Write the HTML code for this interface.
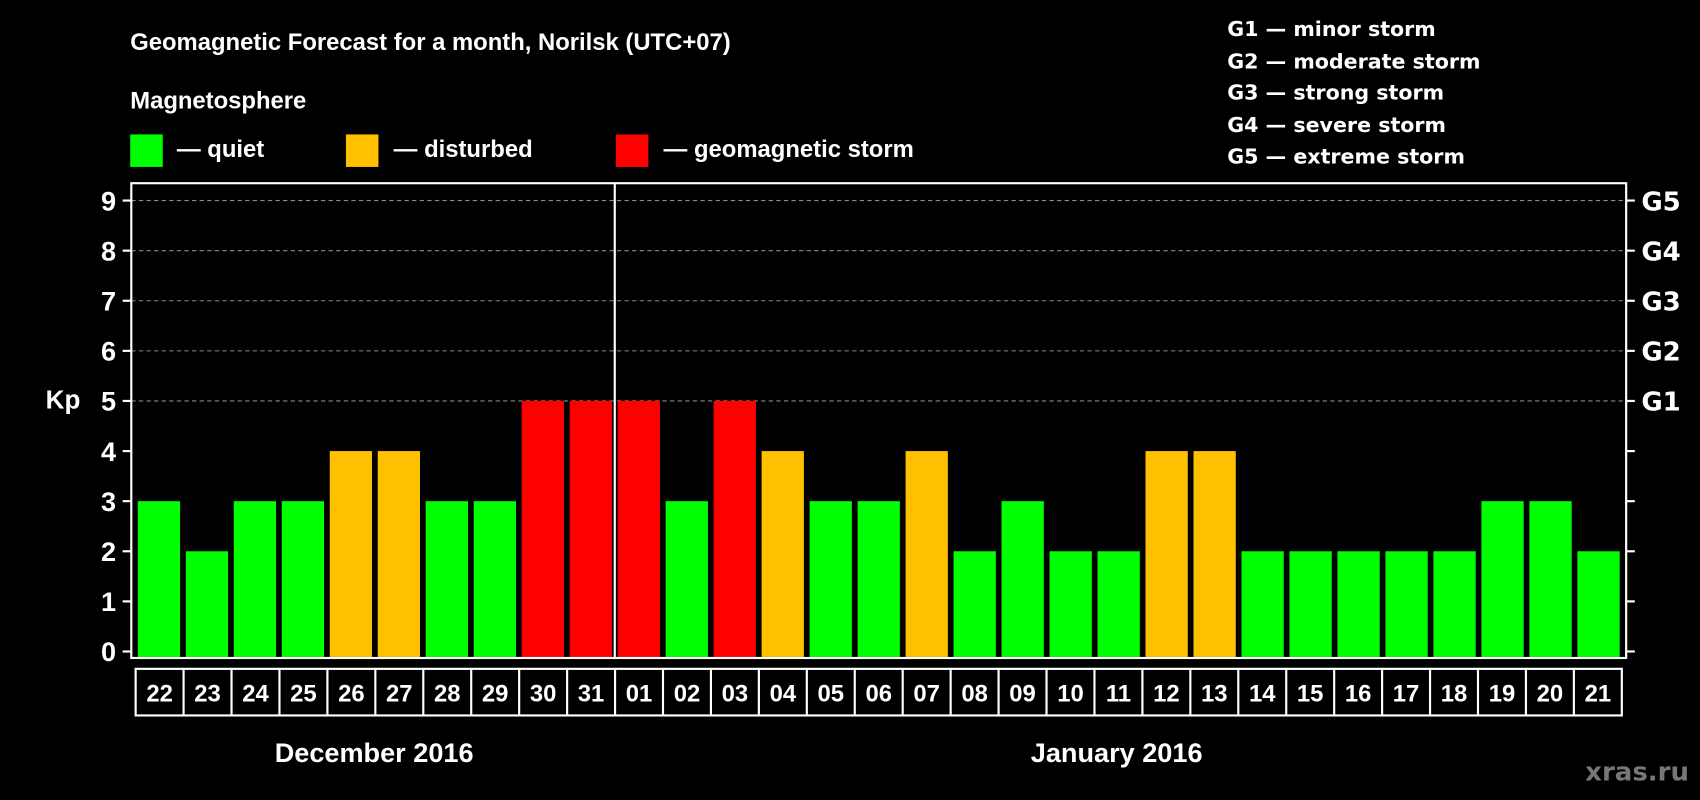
<!DOCTYPE html>
<html><head><meta charset="utf-8"><style>
html,body{margin:0;padding:0;background:#000;}
svg{display:block;font-family:"Liberation Sans",Arial,sans-serif;font-weight:bold;}
</style></head><body>
<svg id="chart" width="1700" height="800" viewBox="0 0 1568 738" xmlns="http://www.w3.org/2000/svg">
<rect width="1568" height="738" fill="#000"/>
<text x="120" y="46" fill="#fff" font-size="22">Geomagnetic Forecast for a month, Norilsk (UTC+07)</text>
<text x="120" y="100" fill="#fff" font-size="22">Magnetosphere</text>
<rect x="120" y="124" width="30" height="30" fill="#00ff00"/>
<text x="163" y="145" fill="#fff" font-size="22">— quiet</text>
<rect x="319" y="124" width="30" height="30" fill="#ffc000"/>
<text x="363" y="145" fill="#fff" font-size="22">— disturbed</text>
<rect x="568" y="124" width="30" height="30" fill="#ff0000"/>
<text x="612" y="145" fill="#fff" font-size="22">— geomagnetic storm</text>
<g fill="#fff" font-size="19" font-family="'DejaVu Sans',sans-serif">
<text x="1132" y="33">G1 — minor storm</text>
<text x="1132" y="63">G2 — moderate storm</text>
<text x="1132" y="92">G3 — strong storm</text>
<text x="1132" y="122">G4 — severe storm</text>
<text x="1132" y="151">G5 — extreme storm</text>
</g>
<text x="58" y="377" fill="#fff" font-size="24" text-anchor="middle">Kp</text>
<g id="grid"></g><g id="bars"></g><g id="axes"></g><g id="days"></g>
<text x="345" y="703" fill="#fff" font-size="25" text-anchor="middle">December 2016</text>
<text x="1030" y="703" fill="#fff" font-size="25" text-anchor="middle">January 2016</text>
<text x="1558" y="720" fill="#777" font-size="24" text-anchor="end" font-family="'DejaVu Sans',sans-serif">xras.ru</text>
</svg>
<script>
const days=["22","23","24","25","26","27","28","29","30","31","01","02","03","04","05","06","07","08","09","10","11","12","13","14","15","16","17","18","19","20","21"];
const kp=[3,2,3,3,4,4,3,3,5,5,5,3,5,4,3,3,4,2,3,2,2,4,4,2,2,2,2,2,3,3,2];
const yTicks=[0,1,2,3,4,5,6,7,8,9];
const gLabels=["G1","G2","G3","G4","G5"];
const NS="http://www.w3.org/2000/svg";
const L=121,R=1500,T=169,B=607,y0=601,y9=185,first=127,pitch=(1455-127)/30,bw=39;
function y(v){return y0-(y0-y9)*v/9;}
function x(i){return first+i*pitch;}
function mk(t,a,p){const e=document.createElementNS(NS,t);for(const k in a)e.setAttribute(k,a[k]);p.appendChild(e);return e;}
const grid=document.getElementById('grid'),bars=document.getElementById('bars'),axes=document.getElementById('axes'),dg=document.getElementById('days');
for(let v=5;v<=9;v++){const l=mk('line',{x1:L,x2:R,y1:y(v),y2:y(v),stroke:'#888','stroke-dasharray':'4,3','stroke-width':1},grid);

}
kp.forEach((v,i)=>{const c=v>=5?'#ff0000':v>=4?'#ffc000':'#00ff00';
const r=mk('rect',{x:x(i),y:y(v),width:bw,height:B-1-y(v),fill:c},bars);

});
const box=mk('rect',{x:L,y:T,width:R-L,height:B-T,fill:'none',stroke:'#fff','stroke-width':2},axes);


const dv=mk('line',{x1:567,x2:567,y1:T,y2:B,stroke:'#fff','stroke-width':2},axes);


yTicks.forEach(v=>{mk('line',{x1:113,x2:L,y1:y(v),y2:y(v),stroke:'#fff','stroke-width':2},axes);
mk('line',{x1:R,x2:1508,y1:y(v),y2:y(v),stroke:'#fff','stroke-width':2},axes);
const t=mk('text',{x:107,y:y(v)+9,fill:'#fff','font-size':25,'text-anchor':'end'},axes);t.textContent=v;

});
gLabels.forEach((g,i)=>{const t=mk('text',{x:1514,y:y(i+5)+9,fill:'#fff','font-size':24,'font-family':"'DejaVu Sans',sans-serif"},axes);t.textContent=g;

});
const x0=125,w=(1496-125)/days.length;
const db=mk('rect',{x:x0,y:617,width:1496-x0,height:43,fill:'none',stroke:'#fff','stroke-width':2},dg);


days.forEach((d,i)=>{if(i>0)mk('line',{x1:x0+i*w,x2:x0+i*w,y1:617,y2:660,stroke:'#fff','stroke-width':2},dg);
const t=mk('text',{x:x0+i*w+w/2,y:647,fill:'#fff','font-size':22,'text-anchor':'middle'},dg);t.textContent=d;

});
</script>
</body></html>
